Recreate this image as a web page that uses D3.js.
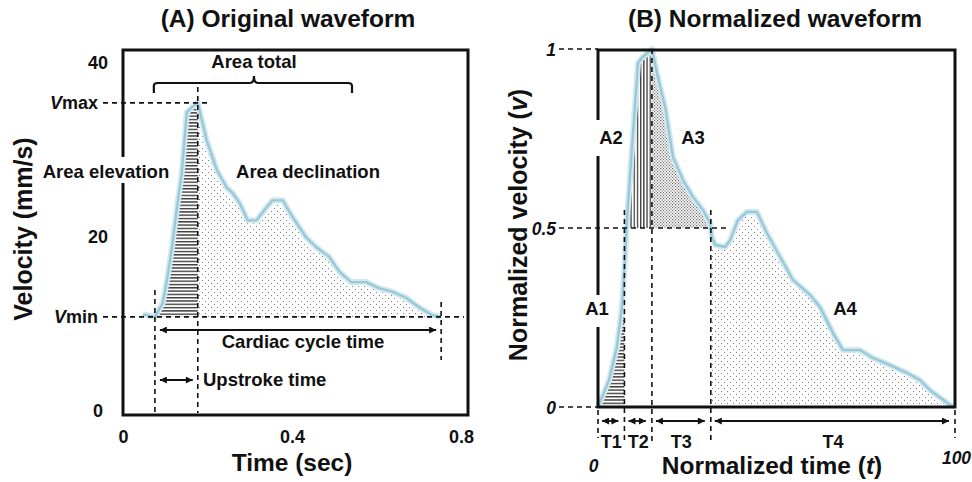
<!DOCTYPE html>
<html>
<head>
<meta charset="utf-8">
<script src="https://cdn.jsdelivr.net/npm/d3@7"></script>
<style>
  body { margin: 0; background: #fff; }
  text { font-family: "Liberation Sans", Arial, sans-serif; font-weight: bold; fill: #111; }
</style>
</head>
<body>
<svg id="chart" width="972" height="482"></svg>
<script>
// ---- panel A: original waveform (time in sec, velocity in mm/s)
const timeA = [0.047, 0.0755, 0.094, 0.104, 0.116, 0.127, 0.139, 0.151, 0.163, 0.177,
  0.198, 0.222, 0.245, 0.260, 0.276, 0.295, 0.316, 0.340, 0.354, 0.378,
  0.401, 0.434, 0.458, 0.488, 0.512, 0.540, 0.576, 0.606, 0.637, 0.670,
  0.701, 0.732, 0.753]
const velA = [11.0, 10.7, 12.3, 14.9, 18.7, 23.0, 27.2, 34.2, 34.8, 35.3,
  31.0, 27.6, 25.6, 24.9, 23.8, 21.8, 21.8, 23.3, 24.1, 24.1,
  22.2, 19.8, 18.7, 17.6, 15.9, 14.7, 14.7, 14.0, 13.6, 12.9,
  11.8, 10.9, 10.7]
const vMinA = 10.7
const vMaxA = 35.3
const tStartA = 0.0755   // foot of the upstroke
const tPeakA = 0.177     // systolic peak
const tEndA = 0.753      // end of the cycle
const braceA = [0.073, 0.31, 0.542]
const ticksAx = [0, 0.4, 0.8]
const ticksAy = [0, 20, 40]

// ---- panel B: normalized waveform (time 0-100, velocity 0-1)
const timeB = [0, 3.1, 5.3, 6.7, 7.6, 8.1, 11.2, 12.3, 15.1, 16.5,
  18.8, 21.0, 23.8, 26.6, 29.4, 31.4, 31.9, 32.8, 35.6, 37.0,
  39.2, 41.7, 44.5, 47.3, 51.0, 54.6, 59.4, 62.2, 65.8, 68.6,
  73.4, 77.0, 81.8, 86.6, 90.2, 93.0, 98.6, 100]
const velB = [0, 0.075, 0.168, 0.279, 0.419, 0.522, 0.961, 0.975, 1.0, 0.933,
  0.838, 0.698, 0.634, 0.587, 0.550, 0.514, 0.475, 0.453, 0.447, 0.466,
  0.522, 0.545, 0.545, 0.486, 0.419, 0.355, 0.313, 0.279, 0.207, 0.159,
  0.159, 0.137, 0.117, 0.095, 0.075, 0.047, 0.006, 0]
const splitsB = [0, 7.4, 15.1, 31.6, 100]
const segLabelsB = ["T1", "T2", "T3", "T4"]
const areaLabelsB = ["A1", "A2", "A3", "A4"]
const ticksBx = [0, 100]
const ticksBy = [0, 0.5, 1]

const svg = d3.select("#chart")
const defs = svg.append("defs")

// fill patterns
function pattern(id, w, h, draw) {
  const p = defs.append("pattern").attr("id", id)
    .attr("patternUnits", "userSpaceOnUse").attr("width", w).attr("height", h)
  draw(p)
}
pattern("hlines", 6, 3.3, p => p.append("rect").attr("width", 6).attr("height", 1.4).attr("fill", "#3c3c3c"))
pattern("vlines", 3.2, 6, p => p.append("rect").attr("width", 1.3).attr("height", 6).attr("fill", "#3c3c3c"))
pattern("dots", 6, 6, p => {
  p.append("rect").attr("x", 1).attr("y", 1).attr("width", 1).attr("height", 1).attr("fill", "#808080")
  p.append("rect").attr("x", 4).attr("y", 4).attr("width", 1).attr("height", 1).attr("fill", "#808080")
})
pattern("fine", 3, 3, p => {
  p.append("rect").attr("x", 0).attr("y", 0).attr("width", 1.2).attr("height", 1.2).attr("fill", "#6a6a6a")
  p.append("rect").attr("x", 1.5).attr("y", 1.5).attr("width", 1.2).attr("height", 1.2).attr("fill", "#6a6a6a")
})

defs.append("marker").attr("id", "arrow")
  .attr("viewBox", "0 0 10 10").attr("refX", 10).attr("refY", 5)
  .attr("markerWidth", 8).attr("markerHeight", 7)
  .attr("markerUnits", "userSpaceOnUse").attr("orient", "auto-start-reverse")
  .append("path").attr("d", "M0,0L10,5L0,10z").attr("fill", "#111")

let clipCount = 0
function region(x, y, pts, t0, t1, base, fill) {
  const id = "clip" + (clipCount++)
  defs.append("clipPath").attr("id", id).append("rect")
    .attr("x", x(t0)).attr("y", 0).attr("width", x(t1) - x(t0)).attr("height", y(base))
  svg.append("path").datum(pts)
    .attr("clip-path", `url(#${id})`)
    .attr("fill", `url(#${fill})`)
    .attr("d", d3.area().x(d => x(d[0])).y0(y(base)).y1(d => y(d[1])))
}

function curve(x, y, pts) {
  const line = d3.line().x(d => x(d[0])).y(d => y(d[1]))
  svg.append("path").datum(pts).attr("d", line)
    .attr("fill", "none").attr("stroke", "#d3e9f0").attr("stroke-width", 6).attr("stroke-linejoin", "round")
  svg.append("path").datum(pts).attr("d", line)
    .attr("fill", "none").attr("stroke", "#99c8d8").attr("stroke-width", 2.4).attr("stroke-linejoin", "round")
}

function dashed(x1, y1, x2, y2) {
  svg.append("line").attr("x1", x1).attr("y1", y1).attr("x2", x2).attr("y2", y2)
    .attr("stroke", "#111").attr("stroke-width", 1.6).attr("stroke-dasharray", "5,4")
}

function arrow(x1, x2, y) {
  svg.append("line").attr("x1", x1).attr("x2", x2).attr("y1", y).attr("y2", y)
    .attr("stroke", "#111").attr("stroke-width", 1.8)
    .attr("marker-start", "url(#arrow)").attr("marker-end", "url(#arrow)")
}

function label(txt, x, y, size, opts = {}) {
  if (opts.bg) {
    svg.append("rect").attr("x", opts.bg[0]).attr("y", opts.bg[1])
      .attr("width", opts.bg[2]).attr("height", opts.bg[3]).attr("fill", "#fff")
  }
  return svg.append("text").attr("x", x).attr("y", y)
    .attr("font-size", size).attr("text-anchor", opts.anchor || "middle")
    .text(txt)
}

// ================= Panel A =================
const frameA = { left: 123, right: 468, top: 50, bottom: 415 }
const xA = d3.scaleLinear().domain([0, 0.8]).range([123, 461])
const yA = d3.scaleLinear().domain([0, 40]).range([410, 62])
const ptsA = timeA.map((t, i) => [t, velA[i]])

region(xA, yA, ptsA, tStartA, tPeakA, vMinA, "hlines")
region(xA, yA, ptsA, tPeakA, tEndA, vMinA, "dots")
curve(xA, yA, ptsA)

svg.append("rect").attr("x", frameA.left).attr("y", frameA.top)
  .attr("width", frameA.right - frameA.left).attr("height", frameA.bottom - frameA.top)
  .attr("fill", "none").attr("stroke", "#111").attr("stroke-width", 3)

// reference lines
dashed(103, yA(vMaxA), xA(tPeakA) + 13, yA(vMaxA))
dashed(103, yA(vMinA), frameA.right - 4, yA(vMinA))
dashed(xA(tStartA), yA(vMinA) - 27, xA(tStartA), frameA.bottom - 2)
dashed(xA(tPeakA), 87, xA(tPeakA), frameA.bottom - 2)
dashed(xA(tEndA), yA(vMinA) - 15, xA(tEndA), yA(vMinA) + 43)

arrow(xA(tStartA) + 5, xA(tEndA) - 5, 330)
arrow(xA(tStartA) + 5, xA(tPeakA) - 5, 380)

// brace over the whole area
{
  const [b0, bm, b1] = braceA.map(xA)
  const yb = 83
  svg.append("path")
    .attr("d", `M${b0},${yb + 10}L${b0},${yb + 3}Q${b0},${yb} ${b0 + 4},${yb}` +
      `L${bm - 4},${yb}Q${bm},${yb} ${bm},${yb - 7}Q${bm},${yb} ${bm + 4},${yb}` +
      `L${b1 - 4},${yb}Q${b1},${yb} ${b1},${yb + 3}L${b1},${yb + 10}`)
    .attr("fill", "none").attr("stroke", "#111").attr("stroke-width", 2.2)
}

// axes (labels only)
const axA_x = svg.append("g").attr("transform", "translate(0,443)")
  .call(d3.axisBottom(xA).tickValues(ticksAx).tickSize(0).tickFormat(d3.format("")))
const axA_y = svg.append("g").attr("transform", "translate(98,0)")
  .call(d3.axisLeft(yA).tickValues(ticksAy).tickSize(0))
for (const ax of [axA_x, axA_y]) {
  ax.select(".domain").remove()
  ax.selectAll("text").attr("font-size", 18).attr("font-family", null).attr("fill", "#111")
}
axA_x.selectAll("text").attr("y", 0).attr("dy", 0)
axA_y.selectAll("text").attr("x", 0).attr("dy", "0.36em").attr("text-anchor", "middle")

// Vmax / Vmin
for (const [name, v] of [["max", vMaxA], ["min", vMinA]]) {
  const t = svg.append("text").attr("x", 98).attr("y", yA(v) + 6.5)
    .attr("font-size", 18).attr("text-anchor", "end")
  t.append("tspan").attr("font-style", "italic").text("V")
  t.append("tspan").text(name)
}

label("Area total", xA(braceA[1]), 68, 18.5)
label("Area elevation", 106, 178, 18.5, { bg: [40, 157, 134, 26] })
label("Area declination", 308, 178, 18.5)
label("Cardiac cycle time", 303, 348, 18.5)
label("Upstroke time", 203, 386, 18.5, { anchor: "start" })

label("(A) Original waveform", 288, 27, 24.5)
label("Time (sec)", 292, 471, 24.5)
svg.append("text").attr("transform", "translate(32,229) rotate(-90)")
  .attr("font-size", 25).attr("text-anchor", "middle").text("Velocity (mm/s)")

// ================= Panel B =================
const frameB = { left: 598, right: 955, top: 50, bottom: 407 }
const xB = d3.scaleLinear().domain([0, 100]).range([598, 955])
const yB = d3.scaleLinear().domain([0, 1]).range([407, 49])
const ptsB = timeB.map((t, i) => [t, velB[i]])
const half = 0.5

region(xB, yB, ptsB, splitsB[0], splitsB[1], 0, "hlines")
region(xB, yB, ptsB, splitsB[1], splitsB[2], half, "vlines")
region(xB, yB, ptsB, splitsB[2], splitsB[3], half, "fine")
region(xB, yB, ptsB, splitsB[3], splitsB[4], 0, "dots")
curve(xB, yB, ptsB)

svg.append("rect").attr("x", frameB.left).attr("y", frameB.top)
  .attr("width", frameB.right - frameB.left).attr("height", frameB.bottom - frameB.top)
  .attr("fill", "none").attr("stroke", "#111").attr("stroke-width", 3)

// level lines from the tick labels
dashed(559, yB(1), frameB.left, yB(1))
dashed(559, yB(0), frameB.left, yB(0))
dashed(559, yB(half), xB(splitsB[3]) + 16, yB(half))

// segment boundaries
splitsB.forEach((s, i) => {
  let top = yB(0) + 3, bottom = 438
  if (i === 1 || i === 3) { top = yB(0.55); bottom = 442 }
  if (i === 2) { top = yB(1); bottom = 442 }
  dashed(xB(s), top, xB(s), bottom)
})

segLabelsB.forEach((name, i) => {
  const a = xB(splitsB[i]), b = xB(splitsB[i + 1])
  arrow(a + 4, b - 6, 421)
  label(name, (a + b) / 2, 448, 18)
})

const axB_x = svg.append("g").attr("transform", "translate(0,0)")
  .call(d3.axisBottom(xB).tickValues(ticksBx).tickSize(0))
const axB_y = svg.append("g").attr("transform", "translate(556,0)")
  .call(d3.axisLeft(yB).tickValues(ticksBy).tickSize(0).tickFormat(d3.format("")))
for (const ax of [axB_x, axB_y]) {
  ax.select(".domain").remove()
  ax.selectAll("text").attr("font-size", 17.5).attr("font-family", null)
    .attr("font-style", "italic").attr("fill", "#111")
}
axB_x.selectAll("text").attr("y", d => d === 0 ? 472 : 464).attr("dy", 0)
  .attr("dx", d => d === 0 ? -5 : 1)
axB_y.selectAll("text").attr("x", 0).attr("dy", "0.36em")

// area labels
label(areaLabelsB[0], 597, 315, 18.5, { bg: [585, 295, 26, 32] })
label(areaLabelsB[1], 611, 144, 18.5, { bg: [590, 120, 36, 36] })
label(areaLabelsB[2], 693, 144, 18.5)
label(areaLabelsB[3], 845, 315, 18.5)

label("(B) Normalized waveform", 775, 27, 24.5)
{
  const t = svg.append("text").attr("x", 772).attr("y", 474)
    .attr("font-size", 24.5).attr("text-anchor", "middle")
  t.append("tspan").text("Normalized time (")
  t.append("tspan").attr("font-style", "italic").text("t")
  t.append("tspan").text(")")
}
{
  const t = svg.append("text").attr("transform", "translate(527,225) rotate(-90)")
    .attr("font-size", 25).attr("text-anchor", "middle")
  t.append("tspan").text("Normalized velocity (")
  t.append("tspan").attr("font-style", "italic").text("v")
  t.append("tspan").text(")")
}
</script>
</body>
</html>
